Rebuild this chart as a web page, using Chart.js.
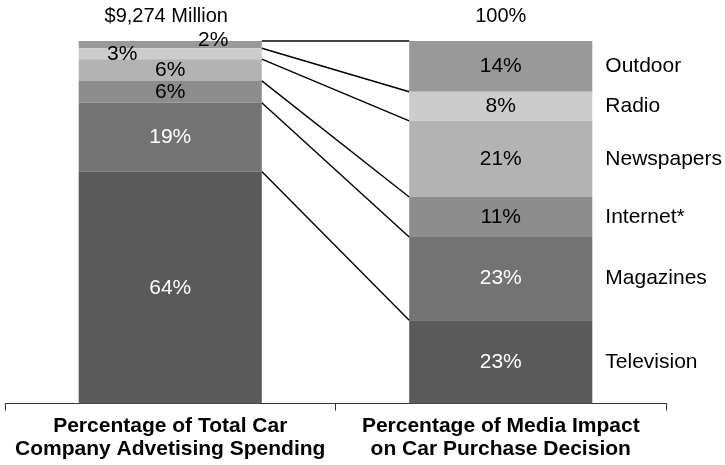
<!DOCTYPE html>
<html>
<head>
<meta charset="utf-8">
<script src="https://cdn.jsdelivr.net/npm/chart.js@4/dist/chart.umd.min.js"></script>
<style>
  body { margin: 0; background: #fff; }
</style>
</head>
<body>
<canvas id="bar1" width="725" height="465"></canvas>
<script>
// data
var groups = [
    ['Percentage of Total Car', 'Company Advetising Spending'],
    ['Percentage of Media Impact', 'on Car Purchase Decision']
];
var topLabels = ['$9,274 Million', '100%'];
var media = ['Television', 'Magazines', 'Internet*', 'Newspapers', 'Radio', 'Outdoor'];
var spending = [64, 19, 6, 6, 3, 2];
var impact = [23, 23, 11, 21, 8, 14];

var mediaColors = ['#5a5a5a', '#737373', '#8d8d8d', '#b3b3b3', '#cccccc', '#999999'];
var textColors = ['#fff', '#fff', '#000', '#000', '#000', '#000'];
// small segments on the left bar have their label moved a bit
var leftNudge = {4: [-48, 1], 5: [43, -4]};

var datasets = [];
for (var i = 0; i < media.length; i++) {
    datasets.push({
        label: media[i],
        data: [spending[i], impact[i]],
        backgroundColor: mediaColors[i],
        borderWidth: 0,
        barPercentage: 0.554,
        categoryPercentage: 1
    });
}

var labelsPlugin = {
    id: 'labelsPlugin',
    afterDatasetsDraw: function (chart) {
        var ctx = chart.ctx;
        var y = chart.scales.y;
        var m0 = chart.getDatasetMeta(0);
        var leftBar = m0.data[0], rightBar = m0.data[1];
        var x1 = leftBar.x + leftBar.width / 2;
        var x2 = rightBar.x - rightBar.width / 2;

        ctx.save();
        // connector lines between the two bars
        var sumL = 0, sumR = 0;
        for (var i = 0; i < media.length; i++) {
            sumL += spending[i];
            sumR += impact[i];
            ctx.beginPath();
            ctx.strokeStyle = i === media.length - 1 ? '#444' : '#000';
            ctx.lineWidth = i === media.length - 1 ? 2 : 1.4;
            ctx.moveTo(x1, y.getPixelForValue(sumL));
            ctx.lineTo(x2, y.getPixelForValue(sumR));
            ctx.stroke();
        }

        ctx.textBaseline = 'middle';
        ctx.font = '21px "Liberation Sans", Arial, sans-serif';
        sumL = 0; sumR = 0;
        for (var i = 0; i < media.length; i++) {
            var ly = y.getPixelForValue(sumL + spending[i] / 2);
            var ry = y.getPixelForValue(sumR + impact[i] / 2);
            sumL += spending[i];
            sumR += impact[i];
            var nd = leftNudge[i] || [0, 0];
            ctx.textAlign = 'center';
            ctx.fillStyle = textColors[i];
            ctx.fillText(spending[i] + '%', leftBar.x + nd[0], ly + nd[1]);
            ctx.fillText(impact[i] + '%', rightBar.x, ry);
            // category name right of the second bar
            ctx.textAlign = 'left';
            ctx.fillStyle = '#000';
            ctx.fillText(media[i], rightBar.x + rightBar.width / 2 + 13, ry);
        }

        // totals above the bars
        ctx.textAlign = 'center';
        ctx.fillStyle = '#000';
        ctx.font = '20px "Liberation Sans", Arial, sans-serif';
        ctx.fillText(topLabels[0], leftBar.x - 4, 16);
        ctx.fillText(topLabels[1], rightBar.x, 16);
        ctx.restore();
    }
};

var barChartCanvas = document.getElementById('bar1').getContext('2d');
var barChart = new Chart(barChartCanvas, {
    type: 'bar',
    data: {
        labels: groups,
        datasets: datasets
    },
    options: {
        responsive: false,
        animation: false,
        layout: {
            padding: {left: 5, right: 59, top: 41, bottom: 0}
        },
        plugins: {
            legend: {display: false},
            tooltip: {enabled: false}
        },
        scales: {
            x: {
                stacked: true,
                grid: {
                    drawOnChartArea: false,
                    drawTicks: true,
                    tickLength: 7,
                    color: '#333'
                },
                border: {display: true, color: '#333', width: 1},
                ticks: {
                    color: '#000',
                    padding: 4,
                    font: {family: '"Liberation Sans", Arial, sans-serif', size: 21, weight: 'bold', lineHeight: 1.1}
                }
            },
            y: {
                stacked: true,
                display: false,
                min: 0,
                max: 100
            }
        }
    },
    plugins: [labelsPlugin]
});
</script>
</body>
</html>
